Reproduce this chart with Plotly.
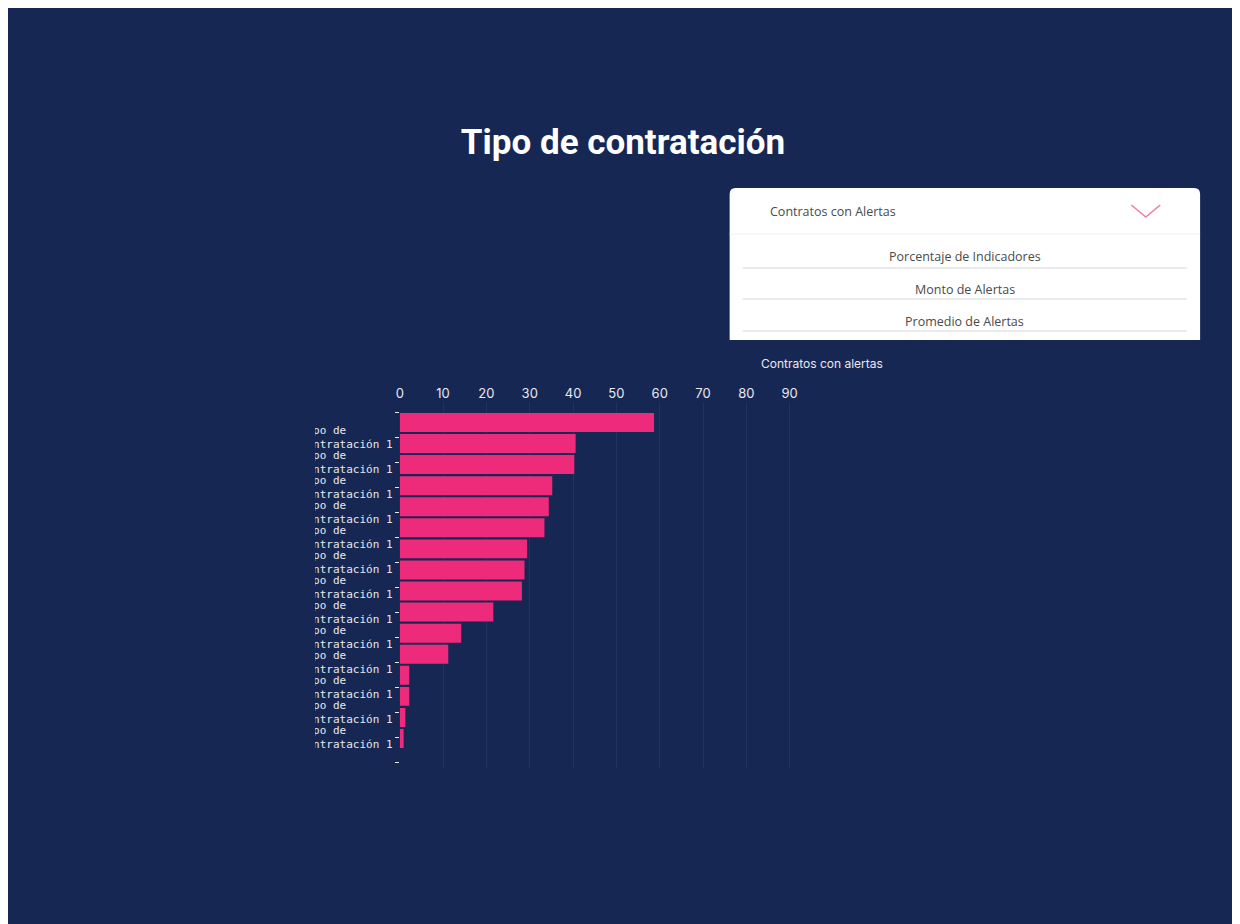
import plotly.graph_objects as go

# ---------------- data ----------------
title_text = "Tipo de contratación"
x_title = "Contratos con alertas"
bar_values = [58.7, 40.6, 40.3, 35.2, 34.4, 33.4, 29.4, 28.8, 28.2, 21.6, 14.2, 11.2, 2.2, 2.2, 1.3, 0.9]
label_line1 = "Tipo de"
label_line2 = "contratación 1"
n_labelled = 13
x_ticks = [0, 10, 20, 30, 40, 50, 60, 70, 80, 90]
menu_current = "Contratos con Alertas"
menu_options = ["Porcentaje de Indicadores", "Monto de Alertas", "Promedio de Alertas"]

# left-aligned two-line label (monospace font, padded with no-break spaces)
pad = "\u00a0" * (len(label_line2) - len(label_line1))
tick_labels = [""] + [label_line1 + pad + "<br>" + label_line2] * n_labelled + [""]

# ---------------- styling ----------------
NAVY = "#172754"
PINK = "#EE2A7B"
TXT = "#e8e8ee"
W, H = 1224, 924
OX, OY = 8, 8


def px(X):
    return (X - OX) / W


def py(Y):
    return 1 - (Y - OY) / H


fig = go.Figure()
fig.add_trace(go.Bar(
    x=bar_values,
    y=list(range(len(bar_values))),
    orientation="h",
    marker=dict(color=PINK, line=dict(width=0)),
    hoverinfo="x",
    showlegend=False,
))
# carrier for the label axis
fig.add_trace(go.Scatter(
    x=[None] * len(tick_labels),
    y=list(range(len(tick_labels))),
    yaxis="y2",
    mode="markers",
    showlegend=False,
    hoverinfo="skip",
))

# rounded dropdown panel
r = 6
L, R, T, B = 728, 1200, 188, 340
panel_path = (
    f"M {px(L)},{py(B)} L {px(L)},{py(T + r)} Q {px(L)},{py(T)} {px(L + r)},{py(T)} "
    f"L {px(R - r)},{py(T)} Q {px(R)},{py(T)} {px(R)},{py(T + r)} L {px(R)},{py(B)} Z"
)

shapes = [
    dict(type="path", xref="paper", yref="paper", path=panel_path,
         fillcolor="#ffffff", line=dict(width=0), layer="above"),
    dict(type="line", xref="paper", yref="paper", x0=px(728), x1=px(1200), y0=py(234), y1=py(234),
         line=dict(color="#f0f0f4", width=1), layer="above"),
    # chevron
    dict(type="path", xref="paper", yref="paper",
         path=f"M {px(1131)},{py(205)} L {px(1145.5)},{py(217)} L {px(1160)},{py(205)}",
         line=dict(color="#f27aa9", width=1.5), layer="above"),
    # clip mask for y labels (reference truncates them at the left)
    dict(type="rect", xref="paper", yref="paper", x0=0, x1=px(312), y0=py(790), y1=py(400),
         fillcolor=NAVY, line=dict(width=0), layer="above"),
]
for yy in (268, 299, 331):
    shapes.append(dict(type="line", xref="paper", yref="paper", x0=px(741), x1=px(1187), y0=py(yy), y1=py(yy),
                       line=dict(color="#e4e4e8", width=1.5), layer="above"))

MENU_FONT = dict(family="Open Sans", size=12.5, color="#4a4a4a")
annotations = [
    dict(text=menu_current, xref="paper", yref="paper", x=px(766), y=py(212), xanchor="left", yanchor="middle",
         showarrow=False, font=MENU_FONT),
    dict(text=x_title, xref="paper", yref="paper", x=px(884), y=py(364), xanchor="right", yanchor="middle",
         showarrow=False, font=dict(family="Inter", size=12, color=TXT)),
]
for opt, yy in zip(menu_options, (257, 289, 321)):
    annotations.append(dict(text=opt, xref="paper", yref="paper", x=px(964), y=py(yy), xanchor="center",
                            yanchor="middle", showarrow=False, font=MENU_FONT))

fig.update_layout(
    width=W, height=H,
    margin=dict(l=0, r=0, t=0, b=0),
    paper_bgcolor=NAVY,
    plot_bgcolor=NAVY,
    bargap=0.1,
    title=dict(text=title_text, x=px(621), y=py(142), xanchor="center", yanchor="middle",
               xref="paper", yref="paper",
               font=dict(family="Roboto", size=35, color="#ffffff", weight=700)),
    xaxis=dict(
        domain=[px(397), px(823)], range=[0, 98], side="top", anchor="y",
        tickvals=x_ticks, ticks="", showline=False, zeroline=False,
        showgrid=True, gridcolor="rgba(255,255,255,0.05)", gridwidth=1,
        tickfont=dict(family="Inter", size=13, color=TXT),
    ),
    yaxis=dict(
        domain=[py(768), py(402)], range=[16.4, -0.97],
        showticklabels=False, showgrid=False, zeroline=False, showline=False, ticks="",
    ),
    yaxis2=dict(
        overlaying="y", anchor="x", side="left", range=[14.24, -0.4],
        tickmode="array", tickvals=list(range(len(tick_labels))), ticktext=tick_labels,
        ticks="outside", ticklen=4, tickcolor=TXT, tickwidth=1,
        showgrid=False, zeroline=False, showline=False,
        tickfont=dict(family="DejaVu Sans Mono", size=11, color=TXT),
    ),
    shapes=shapes,
    annotations=annotations,
)

fig.write_html("out.html")
